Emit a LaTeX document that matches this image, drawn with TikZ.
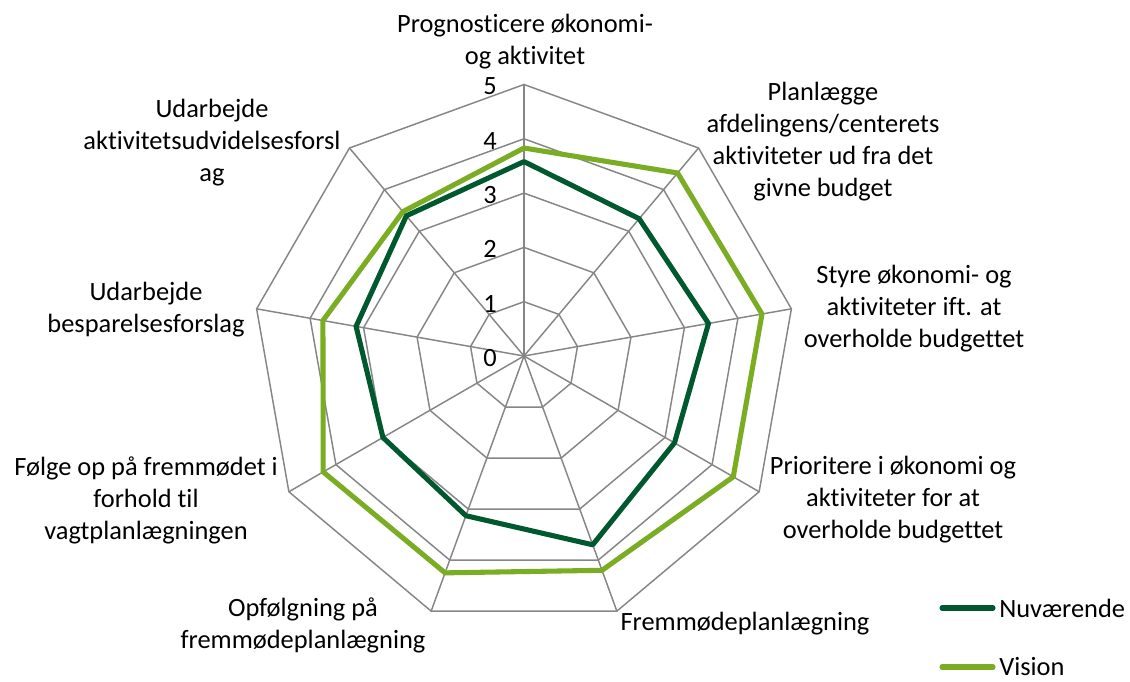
\documentclass[tikz,border=0pt]{standalone}
\usepackage{fontspec}
\setmainfont{Carlito}[Ligatures={NoCommon}]
\definecolor{nowgreen}{RGB}{0,88,46}
\definecolor{visgreen}{RGB}{122,172,36}
\definecolor{gridgray}{RGB}{134,134,134}
\newcommand{\levelr}{54.3}
\begin{document}
\begin{tikzpicture}[x=0.75pt, y=0.75pt,
  gridline/.style={gridgray, line width=1.1pt},
  nowline/.style={nowgreen, line width=3.8pt, line join=round},
  visline/.style={visgreen, line width=3.8pt, line join=round},
  axislabel/.style={align=center, inner sep=0pt, font=\fontsize{19.8}{24}\selectfont},
  ticklabel/.style={inner sep=0pt, font=\fontsize{19.8}{24}\selectfont}]

\useasboundingbox (0,0) rectangle (1130,681);

\begin{scope}[shift={(524,325)}]
% web and spokes
\foreach \r in {1,...,5}
  \draw[gridline] (90:\r*\levelr) \foreach \a in {50,10,...,-230} { -- (\a:\r*\levelr) } -- cycle;
\foreach \a in {90,50,...,-230}
  \draw[gridline] (0,0) -- (\a:5*\levelr);

% series
\draw[nowline] (90:3.58*\levelr) -- (50:3.3*\levelr) -- (10:3.45*\levelr) -- (-30:3.2*\levelr)
  -- (-70:3.7*\levelr) -- (-110:3.13*\levelr) -- (-150:3.0*\levelr) -- (170:3.14*\levelr)
  -- (130:3.37*\levelr) -- cycle;
\draw[visline] (90:3.83*\levelr) -- (50:4.4*\levelr) -- (10:4.45*\levelr) -- (-30:4.45*\levelr)
  -- (-70:4.2*\levelr) -- (-110:4.25*\levelr) -- (-150:4.27*\levelr) -- (170:3.76*\levelr)
  -- (130:3.47*\levelr) -- cycle;

% scale
\foreach \k in {0,...,5}
  \node[ticklabel] (tick\k) at (-34,\k*\levelr-2) {\k};
\end{scope}

% category labels
\node[axislabel] (lab1) at (525,639) {Prognosticere økonomi-\\og aktivitet};
\node[axislabel] (lab2) at (823,539) {Planlægge\\afdelingens/centerets\\aktiviteter ud fra det\\givne budget};
\node[axislabel] (lab3) at (914,372) {Styre økonomi- og\\aktiviteter ift. at\\overholde budgettet};
\node[axislabel] (lab4) at (893,181) {Prioritere i økonomi og\\aktiviteter for at\\overholde budgettet};
\node[axislabel] (lab5) at (745,57) {Fremmødeplanlægning};
\node[axislabel] (lab6) at (303,56) {Opfølgning på\\fremmødeplanlægning};
\node[axislabel] (lab7) at (146,181) {Følge op på fremmødet i\\forhold til\\vagtplanlægningen};
\node[axislabel] (lab8) at (146,371) {Udarbejde\\besparelsesforslag};
\node[axislabel] (lab9) at (212,538) {Udarbejde\\aktivitetsudvidelsesforsl\\ag};

% legend
\node[ticklabel, anchor=west] (legnow) at (999,73) {Nuværende};
\node[ticklabel, anchor=west] (legvis) at (999,14) {Vision};
\coordinate (legnowstart) at (942,73);
\coordinate (legvisstart) at (942,14);
\draw[nowline, line cap=round] (legnowstart) -- ([xshift=-4.5]legnow.west);
\draw[visline, line cap=round] (legvisstart) -- ([xshift=-4.5]legvis.west);
\end{tikzpicture}
\end{document}
